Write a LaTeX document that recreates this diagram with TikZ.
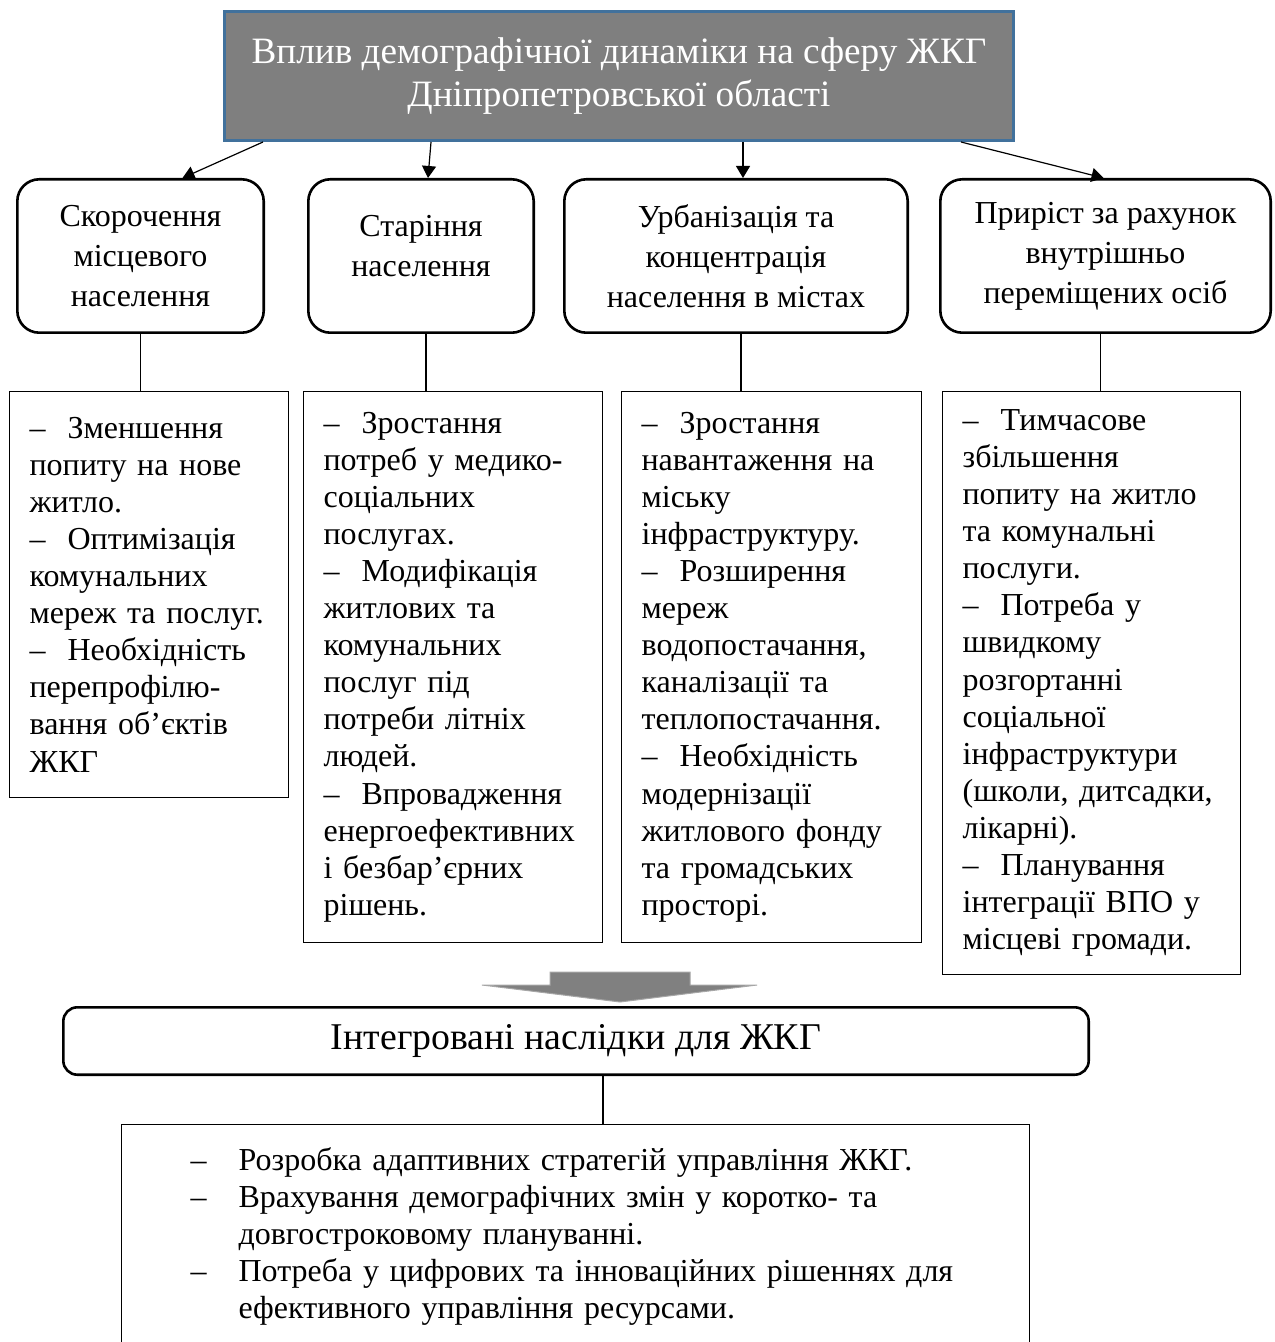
\documentclass[tikz,border=0pt]{standalone}
\usepackage{fontspec}
\setmainfont{Liberation Serif}
\usetikzlibrary{arrows.meta,positioning,calc}
\definecolor{headgray}{HTML}{7F7F7F}
\definecolor{headblue}{HTML}{41719C}
\definecolor{arrgray}{HTML}{808080}
\newcommand{\dsh}{\textendash\hspace{11pt}}
\newcommand{\itm}{\makebox[24pt][l]{\textendash}}
\tikzset{
	head/.style ={rectangle, draw=headblue, line width=1.5pt, fill=headgray, text=white,
		minimum width=394.5pt, minimum height=64.5pt, align=center,
		font=\fontsize{18.6}{21.5}\selectfont},
	cat/.style ={rectangle, draw, rounded corners=11pt, line width=1.3pt, align=center,
		minimum height=76.7pt, font=\fontsize{16}{20}\selectfont},
	det/.style ={rectangle, draw, line width=0.6pt, align=left, inner xsep=10pt,
		font=\fontsize{16}{18.55}\selectfont},
	sum/.style ={rectangle, draw, rounded corners=7pt, line width=1.3pt,
		minimum width=512.7pt, minimum height=33.7pt, font=\fontsize{18.9}{22}\selectfont},
	res/.style ={rectangle, draw, line width=0.6pt, align=left, inner xsep=34.5pt,
		text width=384.9pt, minimum height=112pt, font=\fontsize{16}{18.5}\selectfont},
	conn/.style ={-{Triangle[length=6pt,width=7pt]}, line width=0.6pt},
	link/.style ={line width=0.6pt},
	bigarrow/.style ={fill=arrgray, draw=arrgray!70, line width=0.5pt}
}

\begin{document}
\begin{tikzpicture}[x=0.5pt,y=-0.5pt]
	\clip (0,0) rectangle (1274,1342);
	\node[head] (top) at (619,76) {Вплив демографічної динаміки на сферу ЖКГ\\Дніпропетровської області};
	
	\node[cat, minimum width=123.2pt, anchor=north west] (c1) at (16,178) {Скорочення\\місцевого\\населення};
	\node[cat, minimum width=112.7pt] (c2) [right =21pt of c1] {Старіння\\населення\\[-10pt]\mbox{}};
	\node[cat, minimum width=171.7pt] (c3) [right =14pt of c2] {Урбанізація та\\концентрація\\населення в містах};
	\node[cat, minimum width=165.2pt] (c4) [right =15pt of c3] {Приріст за рахунок\\внутрішньо\\переміщених осіб};
	
	\node[det, text width=119.4pt, minimum height=202.9pt, anchor=north west] (d1) at (9,391)
		{\dsh Зменшення\\попиту на нове\\житло.\\\dsh Оптимізація\\комунальних\\мереж та послуг.\\\dsh Необхідність\\перепрофілю-\\вання об’єктів\\ЖКГ};
	\node[det, text width=129.4pt, minimum height=275.4pt] (d2) [right =7pt of d1.north east, anchor=north west]
		{\dsh Зростання\\потреб у медико-\\соціальних\\послугах.\\\dsh Модифікація\\житлових та\\комунальних\\послуг під\\потреби літніх\\людей.\\\dsh Впровадження\\енергоефективних\\і безбар’єрних\\рішень.};
	\node[det, text width=129.9pt, minimum height=275.4pt] (d3) [right =9pt of d2.north east, anchor=north west]
		{\dsh Зростання\\навантаження на\\міську\\інфраструктуру.\\\dsh Розширення\\мереж\\водопостачання,\\каналізації та\\теплопостачання.\\\dsh Необхідність\\модернізації\\житлового фонду\\та громадських\\просторі.};
	\node[det, text width=128.9pt, minimum height=291.4pt] (d4) [right =10pt of d3.north east, anchor=north west]
		{\dsh Тимчасове\\збільшення\\попиту на житло\\та комунальні\\послуги.\\\dsh Потреба у\\швидкому\\розгортанні\\соціальної\\інфраструктури\\(школи, дитсадки,\\лікарні).\\\dsh Планування\\інтеграції ВПО у\\місцеві громади.};
	
	\node[sum] (sum) at (576,1041) {Інтегровані наслідки для ЖКГ};
	\node[res, anchor=north] (res) at (575.5,1124)
		{\itm Розробка адаптивних стратегій управління ЖКГ.\\\itm Врахування демографічних змін у коротко- та\\\hspace*{24pt}довгостроковому плануванні.\\\itm Потреба у цифрових та інноваційних рішеннях для\\\hspace*{24pt}ефективного управління ресурсами.};
	
	\draw[conn] ([xshift=20pt]top.south west) -- ([xshift=21pt]c1.north);
	\draw[conn] ([xshift=104pt]top.south west) -- ([xshift=3.5pt]c2.north);
	\draw[conn] ([xshift=3.5pt]c3.north |- top.south) -- ([xshift=3.5pt]c3.north);
	\draw[conn] ([xshift=-27pt]top.south east) -- ([xshift=-1pt]c4.north);
	
	\draw[link] (c1.south) -- (c1.south |- d1.north);
	\draw[link] ([xshift=2.5pt]c2.south) -- ([xshift=2.5pt]c2.south |- d2.north);
	\draw[link] ([xshift=2.5pt]c3.south) -- ([xshift=2.5pt]c3.south |- d3.north);
	\draw[link] ([xshift=-2.5pt]c4.south) -- ([xshift=-2.5pt]c4.south |- d4.north);
	
	\draw[bigarrow] (550,972) -- (690,972) -- (690,985) -- (757,985) -- (620,1002) -- (482,985) -- (550,985) -- cycle;
	\draw[link] ([xshift=13.5pt]sum.south) -- ([xshift=13.5pt]sum.south |- res.north);
\end{tikzpicture}
\end{document}
